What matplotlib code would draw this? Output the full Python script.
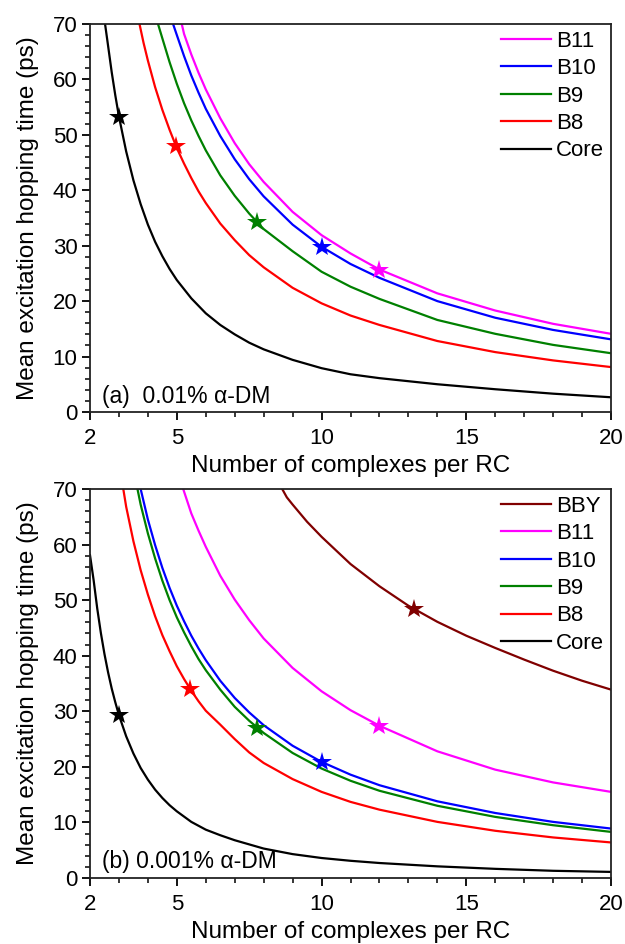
import matplotlib
matplotlib.use("Agg")
import matplotlib.pyplot as plt
from matplotlib.ticker import MultipleLocator

plt.rcParams['font.family'] = ['Liberation Sans', 'DejaVu Sans']

# ---------------- Panel (a): 0.01% alpha-DM ----------------
a_core_x = [2.52, 2.6, 2.75, 2.875, 3.0, 3.25, 3.5, 3.75, 4.0, 4.25, 4.5, 4.75, 5, 5.5, 6, 6.5, 7, 7.5, 8, 9, 10, 11, 12, 14, 16, 18, 20]
a_core_y = [70, 67.0, 61.3, 57.1, 53.3, 47.0, 41.8, 37.5, 33.8, 30.7, 28.1, 25.8, 23.8, 20.5, 17.8, 15.7, 14.0, 12.5, 11.3, 9.4, 7.9, 6.8, 6.1, 5.0, 4.1, 3.3, 2.65]

a_b8_x = [3.71, 3.85, 4.0, 4.25, 4.5, 4.75, 5, 5.25, 5.5, 5.75, 6, 6.5, 7, 7.5, 8, 9, 10, 11, 12, 14, 16, 18, 20]
a_b8_y = [70, 66.6, 63.4, 58.6, 54.5, 50.9, 47.6, 44.8, 42.2, 39.8, 37.7, 34.0, 31.0, 28.3, 26.1, 22.4, 19.6, 17.4, 15.7, 12.8, 10.8, 9.3, 8.1]

a_b9_x = [4.35, 4.5, 4.75, 5, 5.25, 5.5, 5.75, 6, 6.5, 7, 7.5, 8, 9, 10, 11, 12, 14, 16, 18, 20]
a_b9_y = [70, 67.4, 63.1, 59.2, 55.7, 52.6, 49.8, 47.2, 42.7, 39.0, 35.8, 33.0, 29.0, 25.3, 22.6, 20.4, 16.6, 14.1, 12.1, 10.6]

a_b10_x = [4.87, 5, 5.25, 5.5, 5.75, 6, 6.5, 7, 7.5, 8, 9, 10, 11, 12, 14, 16, 18, 20]
a_b10_y = [70, 68.0, 64.2, 60.7, 57.6, 54.7, 49.8, 45.6, 42.0, 38.9, 33.8, 29.8, 26.7, 24.2, 20.0, 17.0, 14.8, 13.1]

a_b11_x = [5.17, 5.25, 5.5, 5.75, 6, 6.5, 7, 7.5, 8, 9, 10, 11, 12, 14, 16, 18, 20]
a_b11_y = [70, 68.2, 64.5, 61.2, 58.2, 53.0, 48.5, 44.7, 41.5, 36.1, 31.9, 28.6, 25.7, 21.4, 18.3, 15.9, 14.1]

a_star_x = [3.0, 4.97, 7.78, 10.0, 12.0]
a_star_y = [53.3, 48.0, 34.2, 29.8, 25.7]

# ---------------- Panel (b): 0.001% alpha-DM ----------------
b_core_x = [2.0, 2.125, 2.25, 2.375, 2.5, 2.625, 2.75, 2.875, 3.0, 3.25, 3.5, 3.75, 4.0, 4.25, 4.5, 4.75, 5, 5.5, 6, 6.5, 7, 8, 9, 10, 11, 12, 14, 16, 18, 20]
b_core_y = [58.1, 53.6, 48.5, 44.1, 40.3, 37.0, 34.1, 31.6, 29.3, 25.5, 22.4, 19.8, 17.7, 15.9, 14.4, 13.1, 12.0, 10.1, 8.7, 7.7, 6.8, 5.3, 4.3, 3.6, 3.1, 2.7, 2.1, 1.65, 1.3, 1.1]

b_b8_x = [3.15, 3.25, 3.5, 3.75, 4.0, 4.25, 4.5, 4.75, 5, 5.25, 5.5, 5.75, 6, 6.5, 7, 7.5, 8, 9, 10, 11, 12, 14, 16, 18, 20]
b_b8_y = [70, 66.8, 60.6, 55.4, 51.0, 47.1, 43.7, 40.8, 38.1, 35.8, 33.7, 31.8, 30.1, 27.6, 25.0, 22.6, 20.7, 17.8, 15.5, 13.7, 12.3, 10.1, 8.5, 7.3, 6.4]

b_b9_x = [3.64, 3.75, 4.0, 4.25, 4.5, 4.75, 5, 5.25, 5.5, 5.75, 6, 6.5, 7, 7.5, 8, 9, 10, 11, 12, 14, 16, 18, 20]
b_b9_y = [70, 67.2, 62.0, 57.5, 53.5, 50.0, 46.9, 44.2, 41.7, 39.4, 37.4, 33.9, 30.8, 28.3, 26.1, 22.5, 19.7, 17.5, 15.7, 13.0, 11.0, 9.5, 8.3]

b_b10_x = [3.75, 4.0, 4.25, 4.5, 4.75, 5, 5.25, 5.5, 5.75, 6, 6.5, 7, 7.5, 8, 9, 10, 11, 12, 14, 16, 18, 20]
b_b10_y = [70, 64.5, 59.9, 55.8, 52.2, 49.0, 46.2, 43.6, 41.3, 39.2, 35.5, 32.4, 29.8, 27.5, 23.8, 20.9, 18.6, 16.7, 13.8, 11.7, 10.1, 8.9]

b_b11_x = [5.22, 5.5, 5.75, 6, 6.5, 7, 7.5, 8, 9, 10, 11, 12, 14, 16, 18, 20]
b_b11_y = [70, 65.6, 62.5, 59.6, 54.4, 50.1, 46.4, 43.1, 37.8, 33.6, 30.2, 27.4, 22.8, 19.5, 17.2, 15.5]

b_bby_x = [8.64, 8.8, 9, 9.5, 10, 11, 12, 13, 14, 15, 16, 17, 18, 19, 20]
b_bby_y = [70, 68.5, 67.2, 64.1, 61.4, 56.5, 52.5, 49.0, 46.1, 43.6, 41.4, 39.3, 37.3, 35.5, 33.9]

b_star_x = [3.0, 5.45, 7.78, 10.0, 12.0, 13.18]
b_star_y = [29.3, 34.1, 27.0, 20.9, 27.4, 48.4]

labels_a = ["B11", "B10", "B9", "B8", "Core"]
labels_b = ["BBY", "B11", "B10", "B9", "B8", "Core"]

col = {"BBY": "#800000", "B11": "#FF00FF", "B10": "#0000FF",
       "B9": "#008000", "B8": "#FF0000", "Core": "#000000"}

xticks = [2, 5, 10, 15, 20]

fig = plt.figure(figsize=(6.25, 9.44), dpi=100)
ax1 = fig.add_axes([0.144, 0.5636, 0.8336, 0.411])
ax2 = fig.add_axes([0.144, 0.0699, 0.8336, 0.4121])

series_a = {"B11": (a_b11_x, a_b11_y), "B10": (a_b10_x, a_b10_y),
            "B9": (a_b9_x, a_b9_y), "B8": (a_b8_x, a_b8_y),
            "Core": (a_core_x, a_core_y)}
series_b = {"BBY": (b_bby_x, b_bby_y), "B11": (b_b11_x, b_b11_y),
            "B10": (b_b10_x, b_b10_y), "B9": (b_b9_x, b_b9_y),
            "B8": (b_b8_x, b_b8_y), "Core": (b_core_x, b_core_y)}

star_cols_a = ["Core", "B8", "B9", "B10", "B11"]
star_cols_b = ["Core", "B8", "B9", "B10", "B11", "BBY"]

def draw(ax, labels, series, sx, sy, scols, note, note_y):
    for lab in labels:
        x, y = series[lab]
        ax.plot(x, y, color=col[lab], lw=1.6, label=lab, solid_joinstyle='round')
    for xx, yy, c in zip(sx, sy, scols):
        ax.plot([xx], [yy], marker='*', color=col[c], markersize=15, mew=0, zorder=5)
    ax.set_xlim(2, 20)
    ax.set_ylim(0, 70)
    ax.set_xticks(xticks)
    ax.xaxis.set_minor_locator(MultipleLocator(1))
    ax.yaxis.set_major_locator(MultipleLocator(10))
    ax.yaxis.set_minor_locator(MultipleLocator(2))
    ax.tick_params(which='major', direction='out', length=6, width=1.3,
                   labelsize=16, top=False, right=False, pad=3)
    ax.tick_params(axis='x', which='major', pad=5.5)
    ax.tick_params(which='minor', direction='out', length=3.5, width=1.1,
                   top=False, right=False)
    for s in ax.spines.values():
        s.set_linewidth(1.3)
        s.set_color('#222222')
    ax.set_xlabel("Number of complexes per RC", fontsize=17.5, labelpad=4.5)
    ax.set_ylabel("Mean excitation hopping time (ps)", fontsize=17.5, labelpad=9.5)
    ax.legend(loc='upper right', frameon=False, fontsize=16,
              handlelength=2.25, handletextpad=0.25, labelspacing=0.29,
              borderaxespad=0.0, borderpad=0.3, bbox_to_anchor=(1.0, 1.0))
    ax.text(0.0225, note_y, note, transform=ax.transAxes, fontsize=16.5,
            ha='left', va='baseline')

draw(ax1, labels_a, series_a, a_star_x, a_star_y, star_cols_a, "(a)  0.01% \u03b1-DM", 0.024)
draw(ax2, labels_b, series_b, b_star_x, b_star_y, star_cols_b, "(b) 0.001% \u03b1-DM", 0.026)

fig.savefig("out.png", dpi=100)
